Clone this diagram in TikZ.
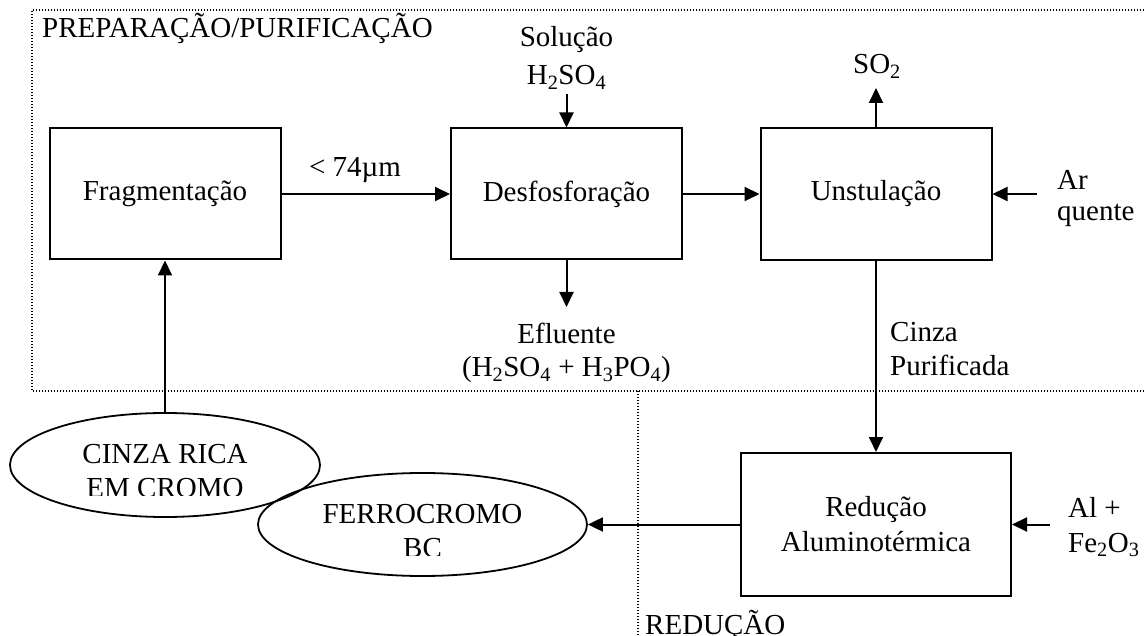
\documentclass[tikz,border=0pt]{standalone}
\usepackage{fontspec}
\setmainfont{Liberation Serif}
\usetikzlibrary{arrows.meta,shapes.geometric}
\begin{document}
\begin{tikzpicture}[x=1pt,y=-1pt,
  font=\fontsize{29}{35}\selectfont,
  box/.style={draw,line width=2pt,inner sep=0pt,align=center,minimum width=231pt,minimum height=131pt},
  ell/.style={draw,ellipse,line width=1.8pt,inner sep=0pt},
  arr/.style={line width=2pt,-{Triangle[length=15pt,width=14pt]}},
  region/.style={line width=1.3pt,dash pattern=on 1.3pt off 1.7pt},
  lbl/.style={inner sep=0pt,align=center,anchor=base},
  lbll/.style={inner sep=0pt,align=left,anchor=base west}]
\useasboundingbox (0,0) rectangle (1144,636);
% regions
\draw[region] (1144,10) -- (32,10) -- (32,391) -- (1144,391);
\draw[region] (638,391) -- (638,640);
\node[lbll] (prep) at (42,38) {PREPARAÇÃO/PURIFICAÇÃO};
\node[lbll] (redreg) at (645,634) {REDUÇÃO};
% process boxes
\node[box] (frag) at (165,194) {Fragmentação};
\node[box] (desf) at (566.5,194) {Desfosforação};
\node[box,minimum height=132pt] (unst) at (876,194) {Unstulação};
\node[box,minimum width=270pt,minimum height=143pt] (red) at (876,524.5) {Redução\\Aluminotérmica};
% ellipses
\node[ell,minimum width=310pt,minimum height=104pt] (cinza) at (165,465) {};
\node[ell,minimum width=329pt,minimum height=103pt] (ferro) at (422.5,524.5) {};
\begin{scope}
  \clip (0,400) rectangle (340,495);
  \node[lbl] (cinzatxt) at (165,497) {CINZA RICA\\[-1pt]EM CROMO};
\end{scope}
\begin{scope}
  \clip (250,470) rectangle (600,555);
  \node[lbl] (ferrotxt) at (422.5,557) {FERROCROMO\\[-1pt]BC};
\end{scope}
% free ends
\coordinate (solin) at (566.5,94);
\coordinate (efl) at (566.5,307);
\coordinate (so2) at (876,88);
\coordinate (arin) at (1037,194);
\coordinate (alin) at (1050,524.5);
% connectors
\draw[arr] (cinza) -- (frag);
\draw[arr] (frag) -- (desf);
\draw[arr] (desf) -- (unst);
\draw[arr] (solin) -- (desf.north);
\draw[arr] (desf.south) -- (efl);
\draw[arr] (unst.north) -- (so2);
\draw[arr] (arin) -- (unst.east);
\draw[arr] (unst) -- (red);
\draw[arr] (alin) -- (red.east);
\draw[arr] (red) -- (ferro);
% labels
\node[lbl] (lsize) at (355,177) {< 74µm};
\node[lbl] (lsol) at (566.5,85) {Solução\\[3pt]H\textsubscript{2}SO\textsubscript{4}};
\node[lbl] (lefl) at (566.5,377) {Efluente\\[-2pt](H\textsubscript{2}SO\textsubscript{4} + H\textsubscript{3}PO\textsubscript{4})};
\node[lbl] (lso2) at (877,74) {SO\textsubscript{2}};
\node[lbll] (lar) at (1057,221) {Ar\\[-4pt]quente};
\node[lbll] (lcinza) at (890,376) {Cinza\\[-1pt]Purificada};
\node[lbll] (lal) at (1068,552) {Al +\\Fe\textsubscript{2}O\textsubscript{3}};
\end{tikzpicture}
\end{document}
